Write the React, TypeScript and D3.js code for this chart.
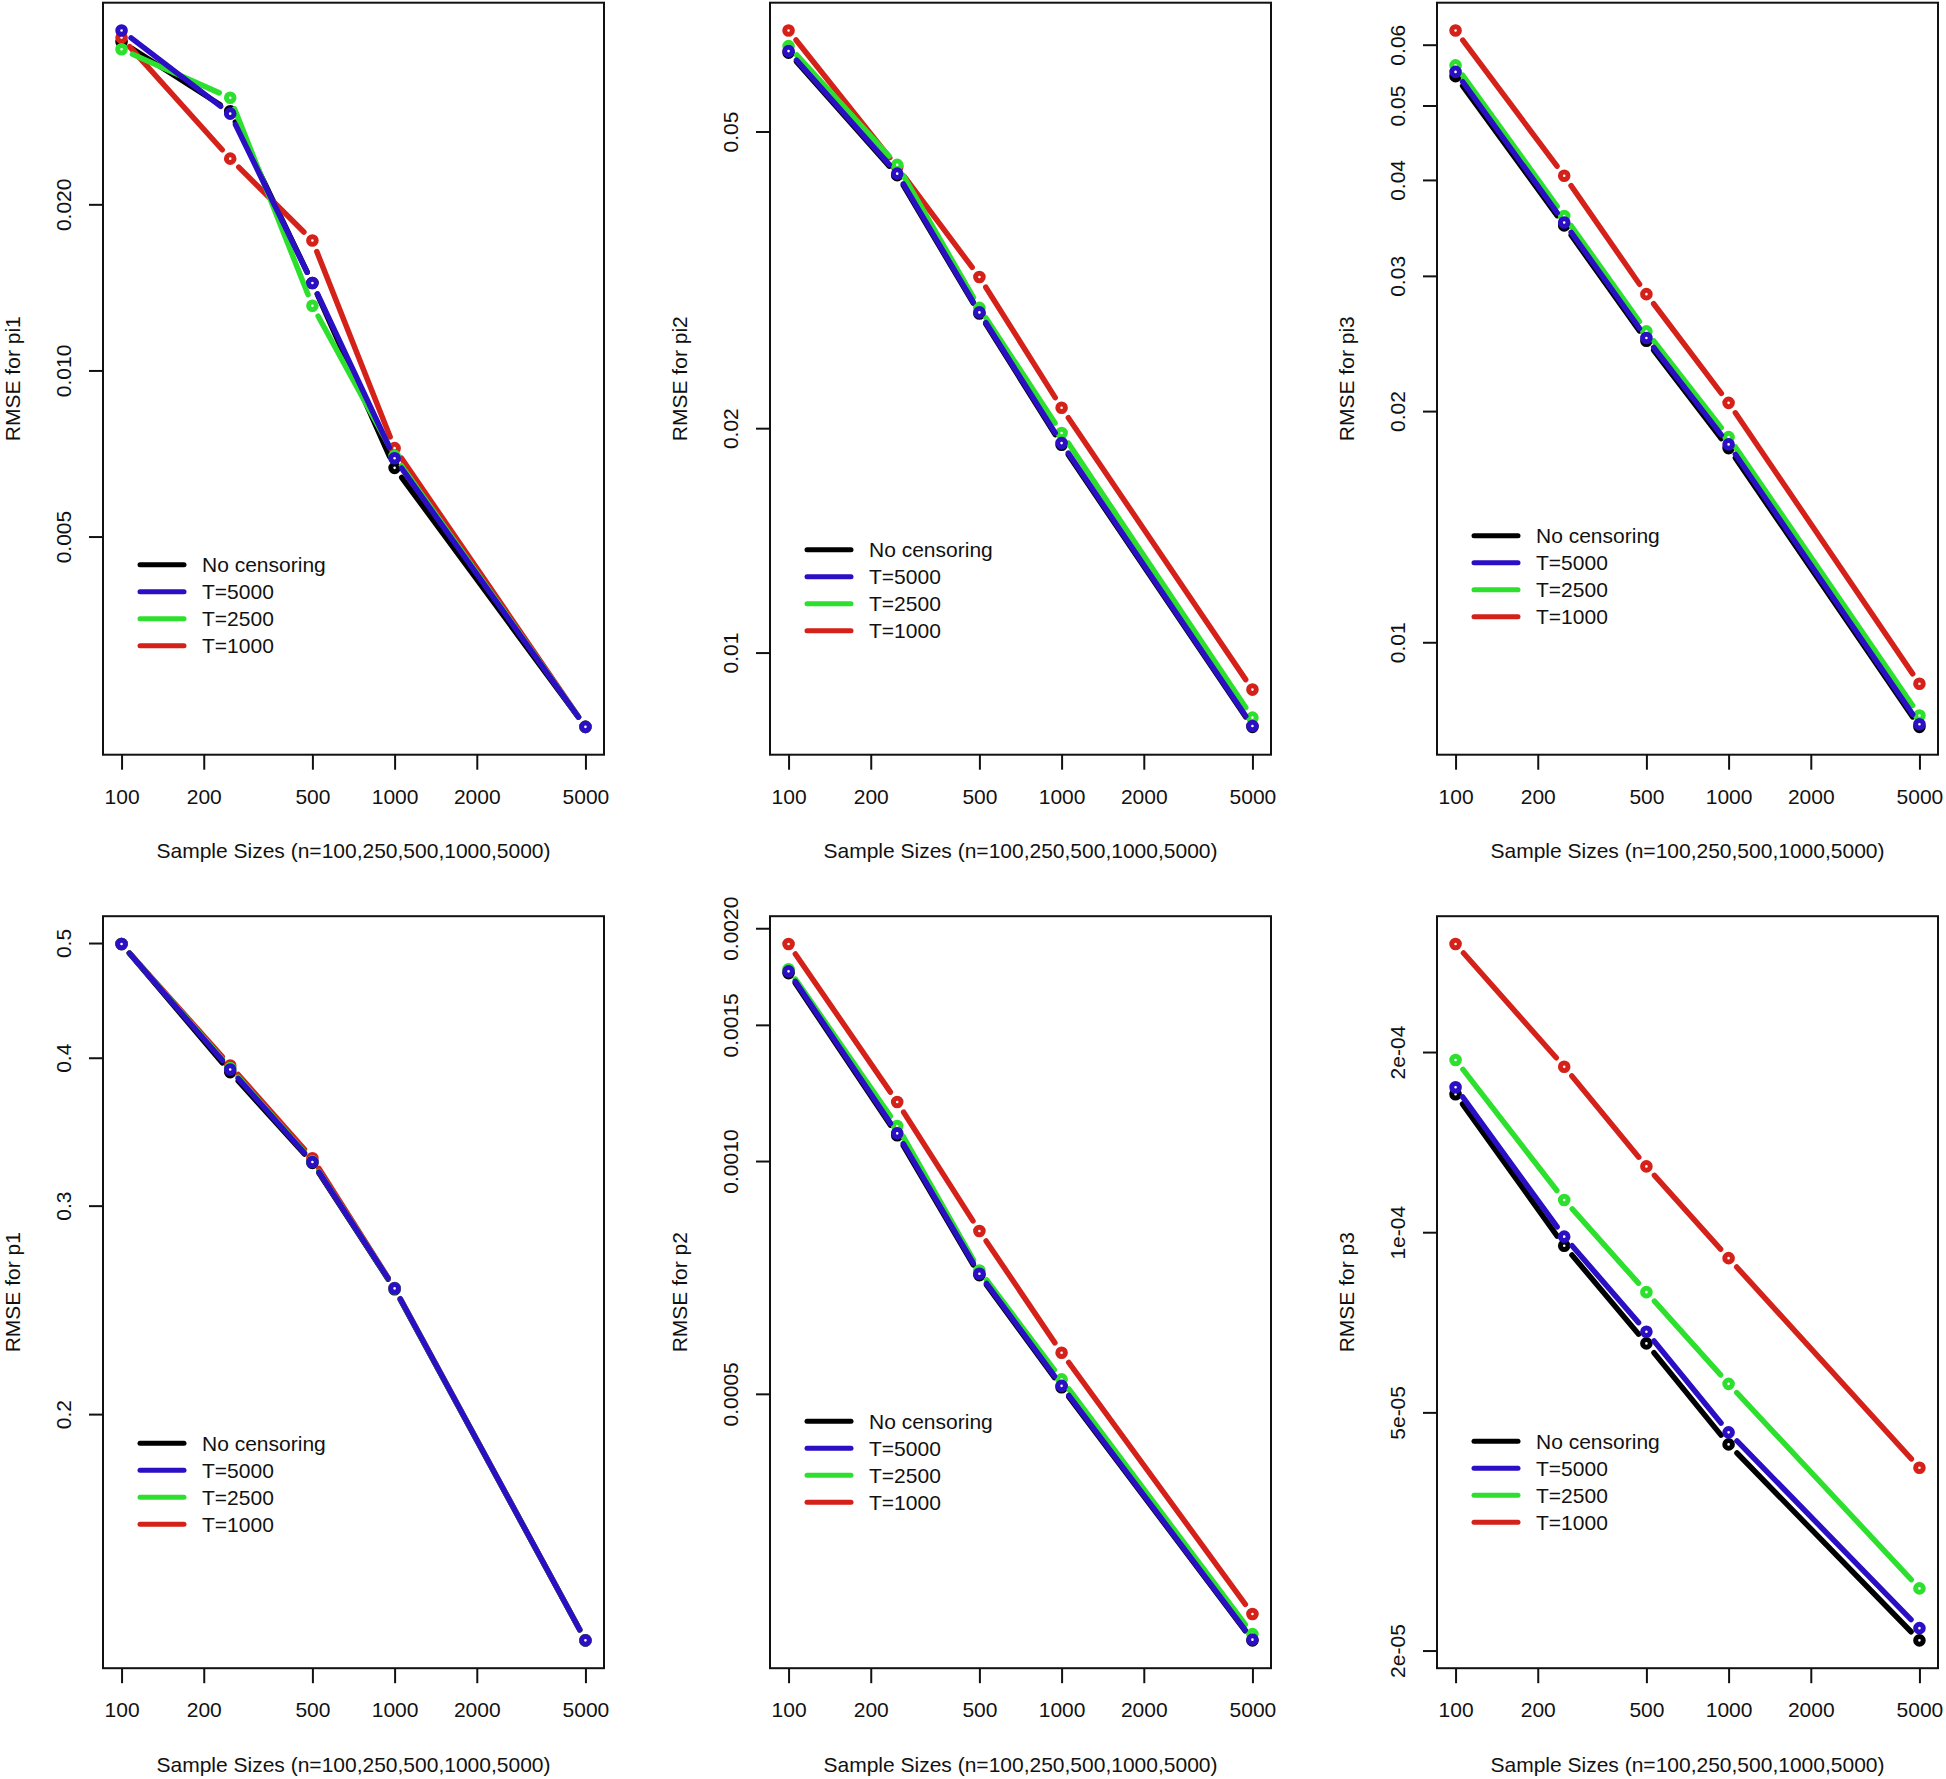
import * as React from 'react';
import { axisBottom, axisLeft, max, min, scaleLog, select } from 'd3';

// sample sizes on the x axis
const sampleSizes = [100, 250, 500, 1000, 5000];
const xTicks = [100, 200, 500, 1000, 2000, 5000];

const seriesNames = ["No censoring", "T=5000", "T=2500", "T=1000"];
const seriesColors = ["#000000", "#2a0fc4", "#2ee02e", "#d4221a"];
// R drew them black first, blue last
const drawOrder = [0, 3, 2, 1];

// rows follow seriesNames
const rmsePi1 = [
    [0.0394, 0.0295, 0.0144, 0.00666, 0.00226],
    [0.0413, 0.0292, 0.0144, 0.00693, 0.00226],
    [0.0382, 0.0312, 0.0131, 0.0070, 0.00226],
    [0.0401, 0.0242, 0.0172, 0.00723, 0.00226],
];
const rmsePi2 = [
    [0.0638, 0.0437, 0.0285, 0.0190, 0.00795],
    [0.0641, 0.0439, 0.0286, 0.0191, 0.00797],
    [0.0651, 0.0451, 0.0290, 0.0197, 0.00818],
    [0.0683, 0.0448, 0.0319, 0.0213, 0.00892],
];
const rmsePi3 = [
    [0.0546, 0.0349, 0.0247, 0.0179, 0.00776],
    [0.0553, 0.0352, 0.0249, 0.0181, 0.00782],
    [0.0564, 0.0359, 0.0254, 0.0185, 0.00803],
    [0.0626, 0.0405, 0.0284, 0.0205, 0.00883],
];
const rmseP1 = [
    [0.499, 0.389, 0.326, 0.255, 0.1288],
    [0.499, 0.391, 0.3266, 0.2554, 0.1288],
    [0.499, 0.392, 0.327, 0.2554, 0.1288],
    [0.499, 0.394, 0.329, 0.2556, 0.1288],
];
const rmseP2 = [
    [0.00175, 0.00108, 0.000712, 0.000510, 0.000240],
    [0.001759, 0.001086, 0.000715, 0.000512, 0.0002405],
    [0.00177, 0.00111, 0.000722, 0.000522, 0.0002445],
    [0.001908, 0.001192, 0.000812, 0.000565, 0.0002596],
];
const rmseP3 = [
    [1.70e-4, 9.49e-5, 6.52e-5, 4.42e-5, 2.08e-5],
    [1.747e-4, 9.83e-5, 6.82e-5, 4.63e-5, 2.18e-5],
    [1.94e-4, 1.132e-4, 7.94e-5, 5.58e-5, 2.54e-5],
    [3.03e-4, 1.89e-4, 1.288e-4, 9.05e-5, 4.04e-5],
];

const yTicksPi1 = [0.005, 0.01, 0.02];
const yLabelsPi1 = ["0.005", "0.010", "0.020"];
const yTicksPi2 = [0.01, 0.02, 0.05];
const yLabelsPi2 = ["0.01", "0.02", "0.05"];
const yTicksPi3 = [0.01, 0.02, 0.03, 0.04, 0.05, 0.06];
const yLabelsPi3 = ["0.01", "0.02", "0.03", "0.04", "0.05", "0.06"];
const yTicksP1 = [0.2, 0.3, 0.4, 0.5];
const yLabelsP1 = ["0.2", "0.3", "0.4", "0.5"];
const yTicksP2 = [0.0005, 0.001, 0.0015, 0.002];
const yLabelsP2 = ["0.0005", "0.0010", "0.0015", "0.0020"];
const yTicksP3 = [2e-5, 5e-5, 1e-4, 2e-4];
const yLabelsP3 = ["2e-05", "5e-05", "1e-04", "2e-04"];

const xTitle = "Sample Sizes (n=100,250,500,1000,5000)";

const panels = [
    { title: "RMSE for pi1", values: rmsePi1, ticks: yTicksPi1, labels: yLabelsPi1 },
    { title: "RMSE for pi2", values: rmsePi2, ticks: yTicksPi2, labels: yLabelsPi2 },
    { title: "RMSE for pi3", values: rmsePi3, ticks: yTicksPi3, labels: yLabelsPi3 },
    { title: "RMSE for p1", values: rmseP1, ticks: yTicksP1, labels: yLabelsP1 },
    { title: "RMSE for p2", values: rmseP2, ticks: yTicksP2, labels: yLabelsP2 },
    { title: "RMSE for p3", values: rmseP3, ticks: yTicksP3, labels: yLabelsP3 },
];

// legend top (px below plot box top) for each panel
const legendOffsets = [562, 547, 533, 527, 505, 525];

const W = 1946;
const H = 1779;
const FONT = "'Liberation Sans', Arial, sans-serif";

// R pads log axes by 4% on each side
const padLog = (lo: number, hi: number): [number, number] => {
    const r = Math.pow(hi / lo, 0.04);
    return [lo / r, hi * r];
};

const App = () => {
    const svgRef = React.useRef<SVGSVGElement>(null);

    React.useEffect(() => {
        const svg = select(svgRef.current);
        svg.selectAll("*").remove();
        svg.append("rect").attr("width", W).attr("height", H).attr("fill", "white");

        const plotW = 501;
        const plotH = 752;

        panels.forEach((panel, i) => {
            const col = i % 3;
            const row = Math.floor(i / 3);
            const left = 103 + col * 667;
            const top = 2.7 + row * 913.5;

            const g = svg.append("g").attr("transform", `translate(${left},${top})`);

            const xScale = scaleLog().domain(padLog(100, 5000)).range([0, plotW]);
            const all = panel.values.flat();
            const yScale = scaleLog()
                .domain(padLog(min(all)!, max(all)!))
                .range([plotH, 0]);

            // x axis
            const xAxis = axisBottom(xScale)
                .tickValues(xTicks)
                .tickFormat((d) => String(d))
                .tickSize(15)
                .tickSizeOuter(0)
                .tickPadding(19);
            const xg = g.append("g").attr("transform", `translate(0,${plotH})`).call(xAxis as any);
            xg.select(".domain").remove();
            xg.selectAll("line").attr("stroke", "#111").attr("stroke-width", 2);
            xg.selectAll("text")
                .attr("font-family", FONT)
                .attr("font-size", 21)
                .attr("fill", "#111");

            // y axis, labels parallel to axis
            const yAxis = axisLeft(yScale)
                .tickValues(panel.ticks)
                .tickFormat((d, k) => panel.labels[k])
                .tickSize(14)
                .tickSizeOuter(0);
            const yg = g.append("g").call(yAxis as any);
            yg.select(".domain").remove();
            yg.selectAll("line").attr("stroke", "#111").attr("stroke-width", 2);
            yg.selectAll("text")
                .attr("x", null)
                .attr("dy", null)
                .attr("transform", "translate(-40,0) rotate(-90)")
                .attr("text-anchor", "middle")
                .attr("dominant-baseline", "central")
                .attr("font-family", FONT)
                .attr("font-size", 21)
                .attr("fill", "#111");

            // box
            g.append("rect")
                .attr("width", plotW)
                .attr("height", plotH)
                .attr("fill", "none")
                .attr("stroke", "#111")
                .attr("stroke-width", 2);

            // titles
            g.append("text")
                .attr("x", plotW / 2)
                .attr("y", plotH + 96)
                .attr("text-anchor", "middle")
                .attr("dominant-baseline", "central")
                .attr("font-family", FONT)
                .attr("font-size", 21)
                .attr("fill", "#111")
                .text(xTitle);
            g.append("text")
                .attr("transform", `translate(-91,${plotH / 2}) rotate(-90)`)
                .attr("text-anchor", "middle")
                .attr("dominant-baseline", "central")
                .attr("font-family", FONT)
                .attr("font-size", 21)
                .attr("fill", "#111")
                .text(panel.title);

            // series, type = "b": segments with gaps round the points
            const gap = 12;
            drawOrder.forEach((s) => {
                const pts = sampleSizes.map((n, k) => [xScale(n), yScale(panel.values[s][k])]);
                const sg = g.append("g");
                for (let k = 0; k < pts.length - 1; k++) {
                    const [x0, y0] = pts[k];
                    const [x1, y1] = pts[k + 1];
                    const len = Math.hypot(x1 - x0, y1 - y0);
                    if (len <= 2 * gap) continue;
                    const ux = (x1 - x0) / len;
                    const uy = (y1 - y0) / len;
                    sg.append("line")
                        .attr("x1", x0 + ux * gap)
                        .attr("y1", y0 + uy * gap)
                        .attr("x2", x1 - ux * gap)
                        .attr("y2", y1 - uy * gap)
                        .attr("stroke", seriesColors[s])
                        .attr("stroke-width", 5.5)
                        .attr("stroke-linecap", "round");
                }
                sg.selectAll("circle")
                    .data(pts)
                    .join("circle")
                    .attr("cx", (d) => d[0])
                    .attr("cy", (d) => d[1])
                    .attr("r", 3.8)
                    .attr("fill", "white")
                    .attr("stroke", seriesColors[s])
                    .attr("stroke-width", 5);
            });

            // legend, no box
            const lg = g.append("g").attr("transform", `translate(37,${legendOffsets[i]})`);
            seriesNames.forEach((name, k) => {
                lg.append("line")
                    .attr("x1", 0)
                    .attr("x2", 44)
                    .attr("y1", k * 27)
                    .attr("y2", k * 27)
                    .attr("stroke", seriesColors[k])
                    .attr("stroke-width", 5)
                    .attr("stroke-linecap", "round");
                lg.append("text")
                    .attr("x", 62)
                    .attr("y", k * 27)
                    .attr("dominant-baseline", "central")
                    .attr("font-family", FONT)
                    .attr("font-size", 21)
                    .attr("fill", "#111")
                    .text(name);
            });
        });
    }, []);

    return (
        <div style={{ position: 'absolute', left: 0, top: 0 }}>
            <svg ref={svgRef} width={W} height={H} />
        </div>
    );
};

export default App;
